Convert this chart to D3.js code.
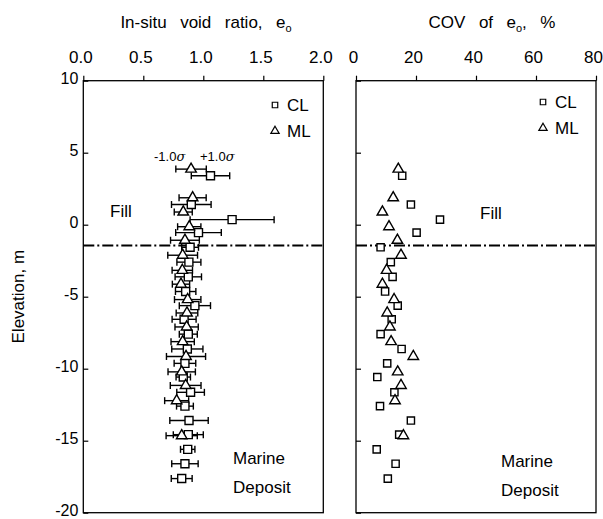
<!DOCTYPE html>
<html>
<head>
<meta charset="utf-8">
<script src="https://cdn.jsdelivr.net/npm/d3@7"></script>
<style>
  html, body { margin: 0; padding: 0; background: #fff; }
  svg { display: block; }
  text { font-family: "Liberation Sans Narrow", "Arial Narrow", "Liberation Sans", sans-serif; fill: #000; }
</style>
</head>
<body>
<svg id="chart" width="603" height="519"></svg>
<script>
// CL samples: elevation (m), mean void ratio, standard deviation, COV (%)
const clElev = [3.4, 1.4, 0.35, -0.55, -1.57, -2.6, -3.62, -4.64, -5.62, -6.57, -7.6,
                -8.63, -9.63, -10.58, -11.64, -12.6, -13.6, -14.58, -15.6, -16.6, -17.63];
const clE    = [1.06, 0.90, 1.24, 0.96, 0.89, 0.88, 0.875, 0.853, 0.93, 0.84, 0.875,
                0.867, 0.847, 0.833, 0.894, 0.847, 0.881, 0.875, 0.87, 0.847, 0.82];
const clSd   = [0.16, 0.165, 0.35, 0.19, 0.07, 0.10, 0.11, 0.085, 0.13, 0.10, 0.075,
                0.13, 0.09, 0.06, 0.115, 0.07, 0.16, 0.125, 0.06, 0.11, 0.087];
const clCov  = [15.4, 18.3, 28, 20.2, 8.2, 11.6, 12.2, 9.7, 13.9, 11.9, 8.2,
                15.2, 10.4, 7.1, 12.8, 8, 18.3, 14.4, 6.9, 13.2, 10.6];

// ML samples
const mlElev = [3.86, 1.87, 0.88, -0.14, -1.08, -2.12, -3.17, -4.13, -5.2, -6.13, -7.1,
                -8.12, -9.15, -10.22, -11.16, -12.22, -14.65];
const mlE    = [0.898, 0.911, 0.833, 0.883, 0.847, 0.828, 0.825, 0.814, 0.87, 0.864, 0.861,
                0.828, 0.856, 0.82, 0.853, 0.778, 0.82];
const mlSd   = [0.127, 0.113, 0.075, 0.097, 0.12, 0.124, 0.085, 0.072, 0.11, 0.09, 0.097,
                0.097, 0.163, 0.114, 0.128, 0.10, 0.13];
const mlCov  = [14.1, 12.4, 8.8, 11, 13.8, 15, 10.2, 8.8, 12.7, 10.4, 11.3,
                11.7, 19.1, 13.9, 15, 13, 15.8];

// Fill / marine deposit boundary elevation (m)
const fillBase = -1.45;

// Axis ticks
const eTicks   = [0, 0.5, 1.0, 1.5, 2.0];
const covTicks = [0, 20, 40, 60, 80];
const elevTicks = [10, 5, 0, -5, -10, -15, -20];

const svg = d3.select("#chart");

const plotTop = 80.7, plotBottom = 512.7;
const y = d3.scaleLinear().domain([10, -20]).range([plotTop, plotBottom]);
const xE = d3.scaleLinear().domain([0, 2]).range([83.3, 323.3]);
const xC = d3.scaleLinear().domain([0, 80]).range([356, 596]);

const clData = clElev.map((el, i) => ({ elev: el, e: clE[i], sd: clSd[i], cov: clCov[i] }));
const mlData = mlElev.map((el, i) => ({ elev: el, e: mlE[i], sd: mlSd[i], cov: mlCov[i] }));

const sq = d3.symbol().type(d3.symbolSquare);
const tri = d3.symbol().type(d3.symbolTriangle);

function panelFrame(x) {
  const [x0, x1] = x.range();
  svg.append("rect")
    .attr("x", x0).attr("y", plotTop)
    .attr("width", x1 - x0).attr("height", plotBottom - plotTop)
    .attr("fill", "none").attr("stroke", "#000").attr("stroke-width", 1.3);
}

function topAxis(x, ticks, fmt) {
  const g = svg.append("g")
    .attr("transform", `translate(0,${plotTop})`)
    .call(d3.axisTop(x).tickValues(ticks).tickFormat(fmt).tickSize(5).tickPadding(13));
  g.select(".domain").remove();
  g.selectAll("line").attr("stroke", "#000").attr("stroke-width", 1.2);
  g.selectAll("text").attr("font-size", 17).attr("dx", -3);
  return g;
}

function leftAxis(x, labels) {
  const g = svg.append("g")
    .attr("transform", `translate(${x.range()[0]},0)`)
    .call(d3.axisLeft(y).tickValues(elevTicks).tickSize(-5).tickPadding(5)
      .tickFormat(labels ? (d => String(d)) : ""));
  g.select(".domain").remove();
  g.selectAll("line").attr("stroke", "#000").attr("stroke-width", 1.2);
  g.selectAll("text").attr("font-size", 16).attr("dy", "0.2em");
  return g;
}

function boundary(x) {
  const [x0, x1] = x.range();
  svg.append("line")
    .attr("x1", x0).attr("x2", x1)
    .attr("y1", y(fillBase)).attr("y2", y(fillBase))
    .attr("stroke", "#000").attr("stroke-width", 2)
    .attr("stroke-dasharray", "11,3,2,3");
}

// ---- Left panel: void ratio with ±1σ bars ----
panelFrame(xE);
boundary(xE);
topAxis(xE, eTicks, d3.format(".1f"));
leftAxis(xE, true);

function errorBars(data) {
  const g = svg.append("g").attr("stroke", "#000").attr("stroke-width", 1.4);
  data.forEach(d => {
    const yy = y(d.elev), a = xE(d.e - d.sd), b = xE(d.e + d.sd);
    g.append("line").attr("x1", a).attr("x2", b).attr("y1", yy).attr("y2", yy);
    g.append("line").attr("x1", a).attr("x2", a).attr("y1", yy - 3.5).attr("y2", yy + 3.5);
    g.append("line").attr("x1", b).attr("x2", b).attr("y1", yy - 3.5).attr("y2", yy + 3.5);
  });
}
errorBars(mlData);
errorBars(clData);

function markers(data, x, key, sym, size) {
  svg.append("g").selectAll("path").data(data).join("path")
    .attr("d", sym.size(size)())
    .attr("transform", d => `translate(${x(d[key])},${y(d.elev)})`)
    .attr("fill", "#fff").attr("stroke", "#000").attr("stroke-width", 1.4);
}
markers(clData, xE, "e", sq, 64);
markers(mlData, xE, "e", tri, 48);

// ---- Right panel: COV ----
panelFrame(xC);
boundary(xC);
topAxis(xC, covTicks, d3.format("d"));
leftAxis(xC, false);
markers(clData, xC, "cov", sq, 52);
markers(mlData, xC, "cov", tri, 48);

// ---- Titles ----
function subTitle(x, parts) {
  const t = svg.append("text").attr("x", x).attr("y", 28).attr("text-anchor", "middle")
    .attr("font-size", 17).attr("xml:space", "preserve").attr("word-spacing", 2);
  t.append("tspan").text(parts[0]);
  t.append("tspan").attr("font-size", 11).attr("dy", 4).text("o");
  t.append("tspan").attr("dy", -4).text(parts[1]);
}
subTitle(206, ["In-situ  void  ratio,  e", ""]);
subTitle(492, ["COV  of  e", ",  %"]);

svg.append("text")
  .attr("transform", `translate(24,${(plotTop + plotBottom) / 2}) rotate(-90)`)
  .attr("text-anchor", "middle").attr("font-size", 17)
  .text("Elevation, m");

// ---- Legends ----
function legend(x, yy) {
  svg.append("path").attr("d", sq.size(30)()).attr("transform", `translate(${x},${yy})`)
    .attr("fill", "#fff").attr("stroke", "#000").attr("stroke-width", 1.2);
  svg.append("text").attr("x", x + 12).attr("y", yy + 6).attr("font-size", 17).text("CL");
  svg.append("path").attr("d", tri.size(30)()).attr("transform", `translate(${x},${yy + 26})`)
    .attr("fill", "#fff").attr("stroke", "#000").attr("stroke-width", 1.2);
  svg.append("text").attr("x", x + 12).attr("y", yy + 32).attr("font-size", 17).text("ML");
}
legend(275, 105);
legend(543, 102);

// ---- σ labels ----
function sigma(x, str) {
  const t = svg.append("text").attr("x", x).attr("y", 161).attr("font-size", 13);
  t.append("tspan").text(str);
  t.append("tspan").attr("font-style", "italic").attr("font-family", "DejaVu Serif, serif").text("σ");
}
sigma(154, "-1.0");
sigma(200, "+1.0");

// ---- Zone labels ----
function label(x, yy, str) {
  svg.append("text").attr("x", x).attr("y", yy).attr("font-size", 17).text(str);
}
label(110, 217, "Fill");
label(480, 219, "Fill");
label(233, 464, "Marine");
label(233, 493, "Deposit");
label(501, 467, "Marine");
label(501, 496, "Deposit");
</script>
</body>
</html>
